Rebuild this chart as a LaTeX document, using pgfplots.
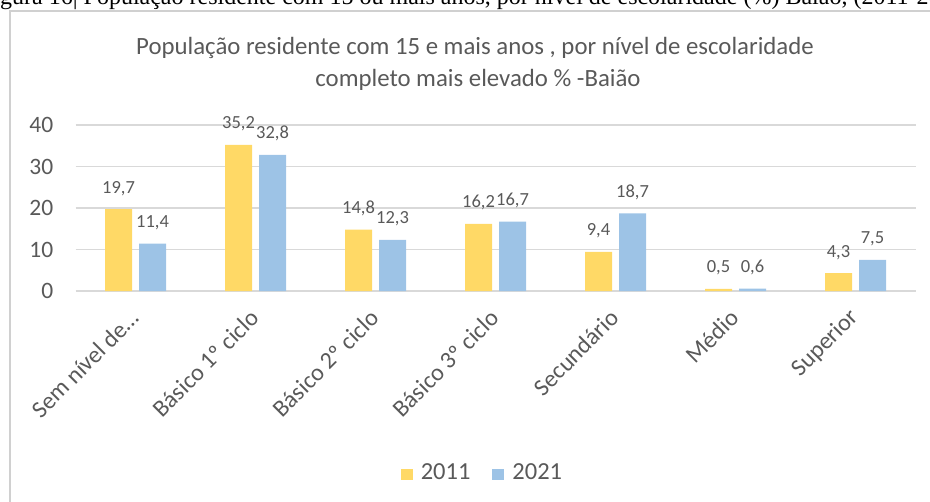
\documentclass[border=0pt]{standalone}
\usepackage{pgfplots}
\pgfplotsset{compat=1.18}
\usepackage{fontspec}
\setmainfont{Carlito}
\newfontfamily\capfont{Liberation Serif}
\definecolor{y11}{HTML}{FFD966}
\definecolor{b21}{HTML}{9DC3E6}
\definecolor{txt}{HTML}{595959}
\definecolor{gridc}{HTML}{D9D9D9}
\definecolor{framec}{HTML}{D0D0D0}
\newcommand{\fs}[1]{\fontsize{#1bp}{#1bp}\selectfont}
\begin{document}
\begin{tikzpicture}[x=1bp,y=1bp]
\useasboundingbox (0,0) rectangle (930,-502);
\node[anchor=base west, inner sep=0, font=\capfont\fs{24}] at (-20,-5) {Figura 16| População residente com 15 ou mais anos, por nível de escolaridade (\%) Baião, (2011-2021)};
\draw[framec, line width=1.5bp] (10,-510) -- (10,-11) -- (940,-11);
\node[anchor=base, font=\fs{24.8}, text=txt, inner sep=0] at (475,-55) {População residente com 15 e mais anos , por nível de escolaridade};
\node[anchor=base, font=\fs{24.8}, text=txt, inner sep=0] at (478,-87) {completo mais elevado \% -Baião};
\begin{axis}[
  at={(75.5bp,-291bp)}, anchor=south west,
  scale only axis, width=840bp, height=166bp,
  xmin=-0.5, xmax=6.5, ymin=0, ymax=40,
  ybar=7bp, bar width=27bp,
  axis line style={draw=none},
  major tick length=0pt,
  ytick={0,10,20,30,40},
  ymajorgrids, grid style={gridc, line width=1.6bp},
  xtick={0,1,2,3,4,5,6},
  xticklabels={{Sem nível de\ldots}, {Básico 1º ciclo}, {Básico 2º ciclo}, {Básico 3º ciclo}, {Secundário}, {Médio}, {Superior}},
  /pgf/number format/assume math mode=true,
  /pgf/number format/use comma,
  yticklabel style={font=\fs{23.5}, text=txt, anchor=east, inner sep=0pt, xshift=-22bp},
  xticklabel style={font=\fs{24}, text=txt, xshift=-0.5bp, yshift=-23bp, rotate=45, anchor=east, inner sep=0pt},
  nodes near coords,
  nodes near coords style={font=\fs{18.5}, text=txt, anchor=base, inner sep=0pt, yshift=16bp,
    /pgf/number format/.cd, fixed, fixed zerofill, precision=1, use comma, assume math mode=true},
  legend columns=2,
  legend style={at={(axis description cs:0.4845,-1.09)}, anchor=center, draw=none, fill=none,
    font=\fs{24.5}, text=txt, inner sep=0pt,
    /tikz/every even column/.append style={column sep=20bp}},
  legend image code/.code={\fill[#1] (0bp,-8bp) rectangle (12bp,3bp); \path (18bp,0bp);},
  clip=false,
]
\addplot[fill=y11, draw=none] coordinates {(0,19.7) (1,35.2) (2,14.8) (3,16.2) (4,9.4) (5,0.5) (6,4.3)};
\addplot[fill=b21, draw=none] coordinates {(0,11.4) (1,32.8) (2,12.3) (3,16.7) (4,18.7) (5,0.6) (6,7.5)};
\legend{2011, 2021}
\end{axis}
\end{tikzpicture}
\end{document}
